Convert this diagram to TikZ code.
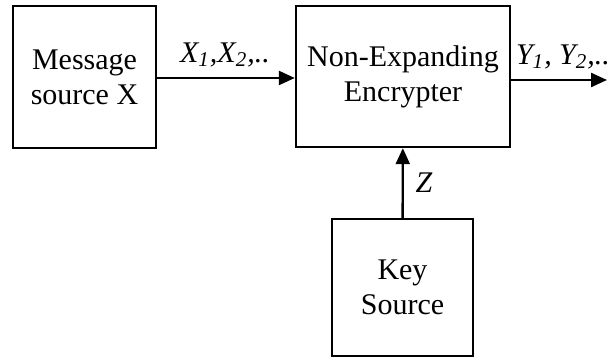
\documentclass[tikz,border=0pt]{standalone}
\usepackage{fontspec}
\setmainfont{Liberation Serif}
\usetikzlibrary{arrows.meta}
\begin{document}
\begin{tikzpicture}
        [x=0.5pt, y=-0.5pt,
        block/.style={rectangle,draw,line width=1.2pt,inner sep=0pt,align=center,
          font=\fontsize{15}{17.5}\selectfont},
        lbl/.style={font=\fontsize{15}{17}\selectfont\itshape},
        arr/.style={line width=1.2pt,-{Triangle[length=8pt,width=7pt]}}]
        \useasboundingbox (0,0) rectangle (607,357);
        \node[block, minimum width=71.5pt, minimum height=71pt] (M) at (84.5,77) {Message\\source X};
        \node[block, minimum width=107pt, minimum height=70.5pt] (E) at (403,76.5) {Non-Expanding\\Encrypter};
        \node[block, minimum width=70.5pt, minimum height=68.5pt] (K) at (402.5,287.5) {Key\\Source};
        \coordinate (out) at (607,80);
        
        \draw[arr] (M.east |- 0,78) -- (E.west |- 0,78);
        \draw[arr] (E.east |- out) -- (out);
        \draw[arr] (K) -- (E);
        
        \node[lbl] (xl) at (225,55) {X\textsubscript{1},X\textsubscript{2},..};
        \node[lbl] (yl) at (563,57) {Y\textsubscript{1}, Y\textsubscript{2},..};
        \node[lbl] (zl) at (424,183) {Z};
    \end{tikzpicture}
\end{document}
